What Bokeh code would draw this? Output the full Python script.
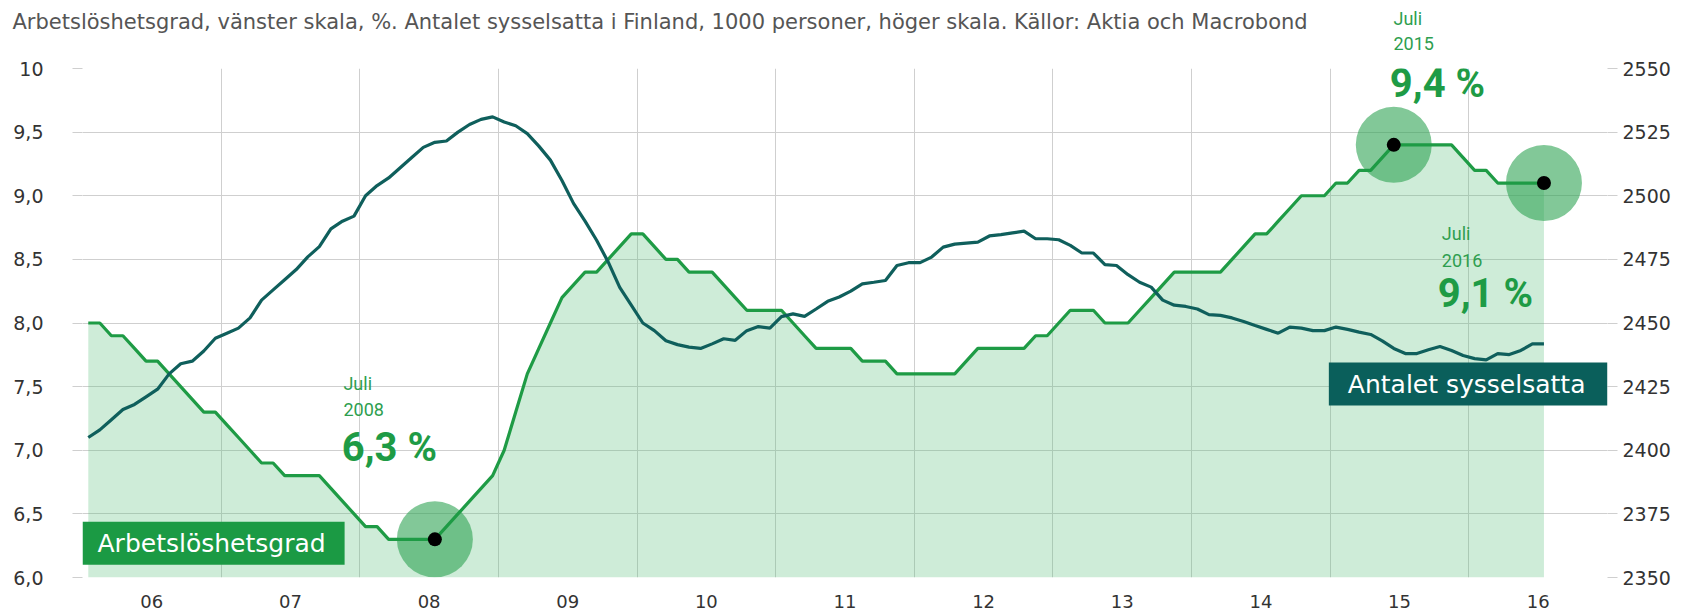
import numpy as np
from bokeh.plotting import figure
from bokeh.layouts import column
from bokeh.models import Range1d, LinearAxis, FixedTicker, Label
from bokeh.embed import file_html
from bokeh.resources import INLINE

# ---------------- data ----------------
start_year = 2006  # monthly data from January 2006 to July 2016
unemployment = [
    8.0, 8.0, 7.9, 7.9, 7.8, 7.7, 7.7, 7.6, 7.5, 7.4, 7.3, 7.3,
    7.2, 7.1, 7.0, 6.9, 6.9, 6.8, 6.8, 6.8, 6.8, 6.7, 6.6, 6.5,
    6.4, 6.4, 6.3, 6.3, 6.3, 6.3, 6.3, 6.4, 6.5, 6.6, 6.7, 6.8,
    7.0, 7.3, 7.6, 7.8, 8.0, 8.2, 8.3, 8.4, 8.4, 8.5, 8.6, 8.7,
    8.7, 8.6, 8.5, 8.5, 8.4, 8.4, 8.4, 8.3, 8.2, 8.1, 8.1, 8.1,
    8.1, 8.0, 7.9, 7.8, 7.8, 7.8, 7.8, 7.7, 7.7, 7.7, 7.6, 7.6,
    7.6, 7.6, 7.6, 7.6, 7.7, 7.8, 7.8, 7.8, 7.8, 7.8, 7.9, 7.9,
    8.0, 8.1, 8.1, 8.1, 8.0, 8.0, 8.0, 8.1, 8.2, 8.3, 8.4, 8.4,
    8.4, 8.4, 8.4, 8.5, 8.6, 8.7, 8.7, 8.8, 8.9, 9.0, 9.0, 9.0,
    9.1, 9.1, 9.2, 9.2, 9.3, 9.4, 9.4, 9.4, 9.4, 9.4, 9.4, 9.3,
    9.2, 9.2, 9.1, 9.1, 9.1, 9.1, 9.1,
]
employment = [
    2405, 2408, 2412, 2416, 2418, 2421, 2424, 2430, 2434, 2435, 2439, 2444,
    2446, 2448, 2452, 2459, 2463, 2467, 2471, 2476, 2480, 2487, 2490, 2492,
    2500, 2504, 2507, 2511, 2515, 2519, 2521, 2521.5, 2525, 2528, 2530, 2531,
    2529, 2527.5, 2524.4, 2519.5, 2514, 2506, 2497, 2490, 2482.5, 2474, 2464, 2457,
    2450, 2447, 2443, 2441.5, 2440.5, 2440, 2441.8, 2443.8, 2443.2, 2447, 2448.6, 2448,
    2452.5, 2453.6, 2452.6, 2455.5, 2458.5, 2460.2, 2462.5, 2465.4, 2466, 2466.7, 2472.6, 2473.7,
    2473.7, 2475.9, 2479.8, 2481, 2481.4, 2481.8, 2484.2, 2484.7, 2485.4, 2486.1, 2483.1, 2483.1,
    2482.7, 2480.5, 2477.5, 2477.5, 2472.9, 2472.6, 2469, 2466, 2464.1, 2459, 2457, 2456.5,
    2455.5, 2453.3, 2453, 2452, 2450.6, 2449, 2447.5, 2446, 2448.4, 2448, 2447, 2447,
    2448.4, 2447.5, 2446.4, 2445.5, 2443, 2440, 2438, 2438, 2439.5, 2440.8, 2439.2, 2437.2,
    2436, 2435.5, 2438, 2437.6, 2439.2, 2441.8, 2441.8,
]
highlight_idx = [30, 113, 126]

x_tick_values = [2006.5 + k for k in range(11)]
x_tick_labels = ["06", "07", "08", "09", "10", "11", "12", "13", "14", "15", "16"]
year_starts = list(range(2006, 2018))
left_ticks = [6.0, 6.5, 7.0, 7.5, 8.0, 8.5, 9.0, 9.5, 10.0]
left_tick_labels = ["6,0", "6,5", "7,0", "7,5", "8,0", "8,5", "9,0", "9,5", "10"]
right_ticks = [2350, 2375, 2400, 2425, 2450, 2475, 2500, 2525, 2550]

title_text = ("Arbetslöshetsgrad, vänster skala, %. Antalet sysselsatta i Finland, "
              "1000 personer, höger skala. Källor: Aktia och Macrobond")

# ---------------- styles ----------------
GREEN = "#1e9b45"
TEAL = "#0f5f5c"
GRID = "#cfcfcf"
TXT_GREEN = "#2e9e4f"
W = 1681
HEAD_H = 58
MAIN_H = 552

n = len(unemployment)
x = start_year + (np.arange(n) + 0.5) / 12.0
u = np.array(unemployment)
hx = x[highlight_idx]
hy = u[highlight_idx]


def lab(fig, xv, yv, text, size, color, font="Roboto", style="normal", **kw):
    fig.add_layout(Label(x=xv, y=yv, text=text, text_font=font, text_font_size=size,
                         text_color=color, text_font_style=style, text_baseline="middle", **kw))


def no_frame_align(fig):
    if "frame_align" in fig.properties():
        fig.frame_align = False


# ---------------- header strip (title + annotation above the plot area) ----------------
head = figure(width=W, height=HEAD_H, x_range=Range1d(0, W), y_range=Range1d(HEAD_H, 0),
              title=None, x_axis_type=None, y_axis_type=None,
              output_backend="svg", toolbar_location=None,
              min_border=0, min_border_left=0, min_border_right=0,
              min_border_top=0, min_border_bottom=0)
no_frame_align(head)
head.outline_line_color = None
head.xgrid.visible = False
head.ygrid.visible = False
head.background_fill_color = "white"
head.border_fill_color = "white"
lab(head, 12, 21, title_text, "21px", "#555555", font="DejaVu Sans")
lab(head, 1393, 18, "Juli", "18px", TXT_GREEN)
lab(head, 1393, 43, "2015", "18px", TXT_GREEN)

# ---------------- main chart ----------------
p = figure(width=W, height=MAIN_H, x_range=Range1d(2006, 2017), y_range=Range1d(6, 10),
           title=None, output_backend="svg", toolbar_location=None,
           min_border_left=82, min_border_right=74, min_border_top=10, min_border_bottom=33)
no_frame_align(p)
p.outline_line_color = None
p.background_fill_color = "white"
p.border_fill_color = "white"
p.extra_y_ranges = {"emp": Range1d(2350, 2550)}

p.xgrid.ticker = FixedTicker(ticks=year_starts)
p.xgrid.grid_line_color = GRID
p.ygrid.grid_line_color = GRID

xa = p.xaxis[0]
xa.ticker = FixedTicker(ticks=x_tick_values)
xa.major_label_overrides = {v: l for v, l in zip(x_tick_values, x_tick_labels)}
xa.axis_line_color = None
xa.major_tick_line_color = None
xa.minor_tick_line_color = None
xa.major_label_standoff = 11
xa.major_label_text_font = "DejaVu Sans"
xa.major_label_text_font_size = "18px"
xa.major_label_text_color = "#333333"

ya = p.yaxis[0]
ya.ticker = FixedTicker(ticks=left_ticks)
ya.major_label_overrides = {v: l for v, l in zip(left_ticks, left_tick_labels)}
ya.axis_line_color = None
ya.major_tick_in = 0
ya.major_tick_out = 10
ya.major_tick_line_color = GRID
ya.minor_tick_line_color = None
ya.major_label_standoff = 29
ya.major_label_text_font = "DejaVu Sans"
ya.major_label_text_font_size = "19px"
ya.major_label_text_color = "#333333"

ra = LinearAxis(y_range_name="emp", ticker=FixedTicker(ticks=right_ticks))
ra.axis_line_color = None
ra.major_tick_in = 0
ra.major_tick_out = 10
ra.major_tick_line_color = GRID
ra.minor_tick_line_color = None
ra.major_label_standoff = 5
ra.major_label_text_font = "DejaVu Sans"
ra.major_label_text_font_size = "19px"
ra.major_label_text_color = "#333333"
p.add_layout(ra, "right")

p.varea(x=x, y1=6, y2=unemployment, fill_color="#5cbf7d", fill_alpha=0.3)
p.scatter(hx, hy, size=76, fill_color="#2ea354", fill_alpha=0.6, line_color=None)
p.line(x, unemployment, line_color=GREEN, line_width=3.2)
p.line(x, employment, y_range_name="emp", line_color=TEAL, line_width=3.2)
p.scatter(hx, hy, size=14, fill_color="black", line_color=None)

lab(p, 2015.430, 9.88, "9,4 %", "40px", GREEN, style="bold")

lab(p, 2007.882, 7.524, "Juli", "18px", TXT_GREEN)
lab(p, 2007.882, 7.319, "2008", "18px", TXT_GREEN)
lab(p, 2007.870, 7.02, "6,3 %", "40px", GREEN, style="bold")

lab(p, 2015.805, 8.704, "Juli", "18px", TXT_GREEN)
lab(p, 2015.805, 8.492, "2016", "18px", TXT_GREEN)
lab(p, 2015.776, 8.233, "9,1 %", "40px", GREEN, style="bold")

lab(p, 2006.0, 6.269, "Arbetslöshetsgrad", "25px", "white", font="DejaVu Sans",
    background_fill_color="#1b9a44", background_fill_alpha=1.0,
    padding=dict(left=15, right=19, top=7, bottom=7))
lab(p, 2014.990, 7.52, "Antalet sysselsatta", "25px", "white", font="DejaVu Sans",
    background_fill_color="#0a5f5b", background_fill_alpha=1.0,
    padding=dict(left=19, right=22, top=7, bottom=7))

layout = column(head, p, spacing=0)
open("out.html", "w").write(file_html(layout, INLINE))
